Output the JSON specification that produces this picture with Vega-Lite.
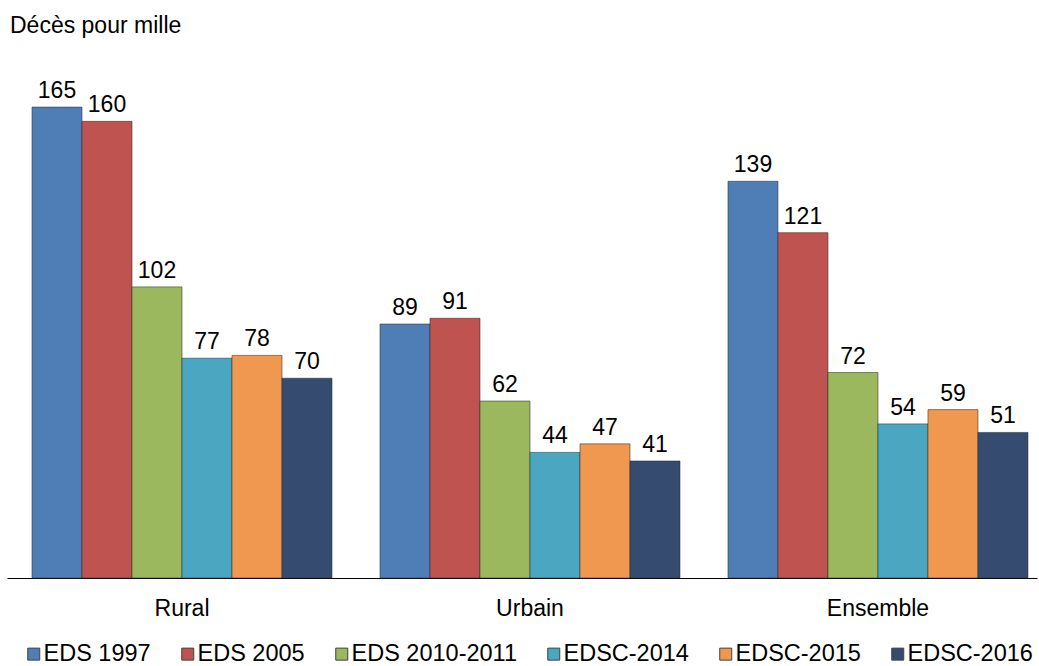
{
  "$schema": "https://vega.github.io/schema/vega-lite/v6.json",
  "width": 1030,
  "height": 528,
  "autosize": {"type": "none"},
  "padding": {"left": 7, "top": 50, "right": 2, "bottom": 88},
  "background": "white",
  "config": {
    "view": {"stroke": null},
    "font": "Liberation Sans",
    "text": {"font": "Liberation Sans"}
  },
  "title": {
    "text": "Décès pour mille",
    "anchor": "start",
    "frame": "group",
    "orient": "top",
    "font": "Liberation Sans",
    "fontSize": 23,
    "fontWeight": "normal",
    "color": "#000000",
    "baseline": "alphabetic",
    "offset": -6,
    "dx": 3
  },
  "data": {
    "values": [
      {"milieu": "Rural", "enquete": "EDS 1997", "valeur": 165},
      {"milieu": "Rural", "enquete": "EDS 2005", "valeur": 160},
      {"milieu": "Rural", "enquete": "EDS 2010-2011", "valeur": 102},
      {"milieu": "Rural", "enquete": "EDSC-2014", "valeur": 77},
      {"milieu": "Rural", "enquete": "EDSC-2015", "valeur": 78},
      {"milieu": "Rural", "enquete": "EDSC-2016", "valeur": 70},
      {"milieu": "Urbain", "enquete": "EDS 1997", "valeur": 89},
      {"milieu": "Urbain", "enquete": "EDS 2005", "valeur": 91},
      {"milieu": "Urbain", "enquete": "EDS 2010-2011", "valeur": 62},
      {"milieu": "Urbain", "enquete": "EDSC-2014", "valeur": 44},
      {"milieu": "Urbain", "enquete": "EDSC-2015", "valeur": 47},
      {"milieu": "Urbain", "enquete": "EDSC-2016", "valeur": 41},
      {"milieu": "Ensemble", "enquete": "EDS 1997", "valeur": 139},
      {"milieu": "Ensemble", "enquete": "EDS 2005", "valeur": 121},
      {"milieu": "Ensemble", "enquete": "EDS 2010-2011", "valeur": 72},
      {"milieu": "Ensemble", "enquete": "EDSC-2014", "valeur": 54},
      {"milieu": "Ensemble", "enquete": "EDSC-2015", "valeur": 59},
      {"milieu": "Ensemble", "enquete": "EDSC-2016", "valeur": 51}
    ]
  },
  "encoding": {
    "x": {
      "field": "milieu",
      "type": "nominal",
      "sort": ["Rural", "Urbain", "Ensemble"],
      "scale": {"paddingInner": 0.1379, "paddingOuter": 0.0489, "align": 0.735},
      "axis": {
        "title": null,
        "labelAngle": 0,
        "labelFont": "Liberation Sans",
        "labelFontSize": 23,
        "labelColor": "#000000",
        "labelPadding": 19,
        "ticks": false,
        "domainColor": "#000000",
        "domainWidth": 1
      }
    },
    "xOffset": {
      "field": "enquete",
      "type": "nominal",
      "sort": ["EDS 1997", "EDS 2005", "EDS 2010-2011", "EDSC-2014", "EDSC-2015", "EDSC-2016"],
      "scale": {"paddingInner": 0, "paddingOuter": 0}
    },
    "y": {
      "field": "valeur",
      "type": "quantitative",
      "scale": {"domain": [0, 185], "nice": false},
      "axis": null
    }
  },
  "layer": [
    {
      "mark": {"type": "bar", "stroke": "#303030", "strokeOpacity": 0.55, "strokeWidth": 1},
      "encoding": {
        "color": {
          "field": "enquete",
          "type": "nominal",
          "sort": ["EDS 1997", "EDS 2005", "EDS 2010-2011", "EDSC-2014", "EDSC-2015", "EDSC-2016"],
          "scale": {
            "domain": ["EDS 1997", "EDS 2005", "EDS 2010-2011", "EDSC-2014", "EDSC-2015", "EDSC-2016"],
            "range": ["#4F7EB7", "#BE5350", "#9BB85E", "#4BA7C1", "#F0984F", "#354B6F"]
          },
          "legend": {
            "title": null,
            "orient": "none",
            "direction": "horizontal",
            "columns": 6,
            "legendX": 15,
            "legendY": 592,
            "symbolType": "square",
            "symbolSize": 144,
            "symbolStrokeColor": "#404040",
            "symbolStrokeWidth": 1,
            "symbolOpacity": 1,
            "labelFont": "Liberation Sans",
            "labelFontSize": 23.5,
            "labelColor": "#000000",
            "labelOffset": -2,
            "columnPadding": 25,
            "labelLimit": 300
          }
        }
      }
    },
    {
      "mark": {
        "type": "text",
        "baseline": "alphabetic",
        "dy": -9,
        "font": "Liberation Sans",
        "fontSize": 23,
        "color": "#000000"
      },
      "encoding": {
        "text": {"field": "valeur", "type": "quantitative"}
      }
    }
  ]
}
